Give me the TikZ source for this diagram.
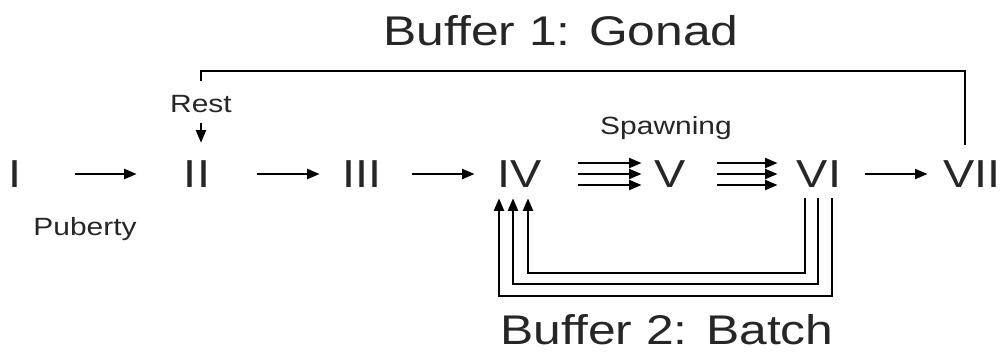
\documentclass[tikz,border=0pt]{standalone}
\usepackage{fontspec}
\setmainfont[FakeStretch=1.2]{Liberation Sans}
\usetikzlibrary{arrows.meta,positioning}

\begin{document}
\begin{tikzpicture}[
    x=0.2mm, y=0.2mm,
    stagenum/.style={inner sep=0pt, text=black!85, font=\fontsize{22.2}{24}\selectfont, text height=15.9pt, text depth=0pt},
    lbl/.style={inner sep=0pt, text=black!85, font=\fontsize{14.2}{16}\selectfont, text height=10.2pt, text depth=0pt},
    buf/.style={inner sep=0pt, text=black!85, font=\fontsize{23.6}{26}\selectfont, text height=16.9pt, text depth=0pt},
    arr/.style={-{Triangle[length=2.5mm, width=2mm]}, line width=1.2pt},
    link/.style={line width=1.2pt},
    node distance=5mm and 5mm
]
\useasboundingbox (0,0) rectangle (1004,352);
\node[stagenum] (s1) at (15,178) {I};
\node[stagenum] (s2) at (197,178) {II};
\node[stagenum] (s3) at (362,178) {III};
\node[stagenum] (s4) at (520,178) {IV};
\node[stagenum] (s5) at (670,178) {V};
\node[stagenum] (s6) at (819,178) {VI};
\node[stagenum] (s7) at (972,178) {VII};
\node[lbl, above=9.4mm of s2, xshift=0.8mm] (rest) {Rest};
\node[lbl, above=5mm of s5, xshift=-0.8mm] (spawn) {Spawning};
\node[lbl, anchor=base] (pub) at (85,117) {Puberty};
\node[buf, anchor=base] (buf1) at (561,307) {Buffer 1: Gonad};
\node[buf, anchor=base] (buf2) at (667,8) {Buffer 2: Batch};
\coordinate (gtop) at (0,281);
\draw[arr, shorten <=10.7mm, shorten >=9.4mm] (s1) -- (s2);
\draw[arr, shorten <=9.4mm, shorten >=4.5mm] (s2) -- (s3);
\draw[arr, shorten <=6.1mm, shorten >=4.6mm] (s3) -- (s4);
\draw[arr, shorten <=7.2mm, shorten >=2.5mm] ([yshift=2.2mm]s4.east) -- ([yshift=2.2mm]s5.west);
\draw[arr, shorten <=7.2mm, shorten >=2.5mm] (s4.east) -- (s5.west);
\draw[arr, shorten <=7.2mm, shorten >=2.5mm] ([yshift=-2.2mm]s4.east) -- ([yshift=-2.2mm]s5.west);
\draw[arr, shorten <=6.3mm, shorten >=3.8mm] ([yshift=2.2mm]s5.east) -- ([yshift=2.2mm]s6.west);
\draw[arr, shorten <=6.3mm, shorten >=3.8mm] (s5.east) -- (s6.west);
\draw[arr, shorten <=6.3mm, shorten >=3.8mm] ([yshift=-2.2mm]s5.east) -- ([yshift=-2.2mm]s6.west);
\draw[arr, shorten <=4.8mm, shorten >=3.1mm] (s6) -- (s7);
\draw[arr, shorten <=2mm, shorten >=3.4mm] (rest.south) -- (rest.south |- s2.north);
\draw[link, shorten <=3mm, shorten >=2.6mm] ([xshift=-1.4mm]s7.north) |- (rest.north |- gtop) -- (rest.north);
\draw[arr, shorten <=2mm, shorten >=2mm] ([xshift=-2.8mm]s6.south) -- ++(0,-85) -| ([xshift=1.6mm]s4.south);
\draw[arr, shorten <=2mm, shorten >=2mm] ([xshift=-0.2mm]s6.south) -- ++(0,-96) -| ([xshift=-1.4mm]s4.south);
\draw[arr, shorten <=2mm, shorten >=2mm] ([xshift=2.6mm]s6.south) -- ++(0,-108) -| ([xshift=-4.2mm]s4.south);
\end{tikzpicture}
\end{document}
